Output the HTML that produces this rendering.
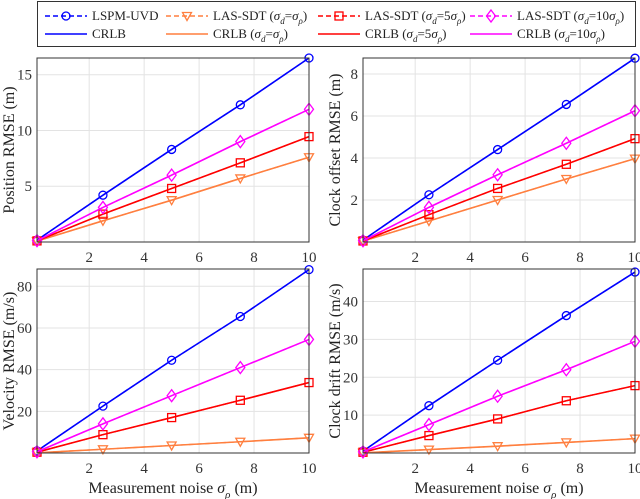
<!DOCTYPE html>
<html><head><meta charset="utf-8">
<style>
body{margin:0;background:#fff;}
svg{display:block;font-family:"Liberation Serif",serif;}
</style></head>
<body>
<svg id="fig" width="640" height="499" viewBox="0 0 640 499">
<g id="legend">
<rect x="37.5" y="1.5" width="598" height="45" fill="#fff" stroke="#333" stroke-width="1"/>
</g>
</svg>
<script>
const xVals=[0.1,2.5,5,7.5,10];
const xTicks=[2,4,6,8,10];
const seriesNames=["LSPM-UVD","LAS-SDT (d=1)","LAS-SDT (d=5)","LAS-SDT (d=10)"];
const colors=["#0000ff","#ff7f3f","#ff0000","#ff00ff"];
const markers=["circle","tri","square","diamond"];
const posBlue=[0.17,4.2,8.3,12.3,16.5];
const posOrange=[0.08,1.9,3.75,5.7,7.6];
const posRed=[0.1,2.5,4.8,7.1,9.45];
const posMag=[0.12,3.1,6.0,9.0,11.9];
const clkBlue=[0.09,2.25,4.4,6.55,8.75];
const clkOrange=[0.04,1.0,2.0,3.0,3.97];
const clkRed=[0.05,1.3,2.55,3.7,4.92];
const clkMag=[0.06,1.65,3.2,4.7,6.25];
const velBlue=[1.0,22.5,44.5,65.5,88];
const velOrange=[0.1,1.8,3.6,5.4,7.3];
const velRed=[0.4,8.8,17,25.3,33.8];
const velMag=[0.6,14,27.5,41,54.5];
const drBlue=[0.5,12.5,24.5,36.3,47.8];
const drOrange=[0.05,0.9,1.8,2.8,3.8];
const drRed=[0.2,4.6,9,13.8,17.8];
const drMag=[0.3,7.5,15,22,29.5];
const posTicks=[5,10,15];
const clkTicks=[2,4,6,8];
const velTicks=[20,40,60,80];
const drTicks=[10,20,30,40];

const NS="http://www.w3.org/2000/svg";
const svg=document.getElementById('fig');
function mk(tag,attrs,parent){const e=document.createElementNS(NS,tag);for(const k in attrs)e.setAttribute(k,attrs[k]);(parent||svg).appendChild(e);return e;}

function marker(g,type,cx,cy,col){
  let e;
  if(type==="circle"){e=mk('circle',{cx:cx,cy:cy,r:4,fill:'none',stroke:col,'stroke-width':1.3},g);}
  else if(type==="square"){e=mk('rect',{x:cx-4,y:cy-4,width:8,height:8,fill:'none',stroke:col,'stroke-width':1.3},g);}
  else if(type==="tri"){e=mk('polygon',{points:`${cx-4.5},${cy-3.5} ${cx+4.5},${cy-3.5} ${cx},${cy+4.5}`,fill:'none',stroke:col,'stroke-width':1.3},g);}
  else {e=mk('polygon',{points:`${cx},${cy-6} ${cx+4.5},${cy} ${cx},${cy+6} ${cx-4.5},${cy}`,fill:'none',stroke:col,'stroke-width':1.3},g);}
  
  
  return e;
}

function panel(name,L,R,T,B,ymax,yticks,series,ylabel,xlabel){
  const g=mk('g',{});
  
  
  const xmin=0.1,xmax=10;
  const sx=v=>L+(v-xmin)/(xmax-xmin)*(R-L);
  const sy=v=>B-(v/ymax)*(B-T);
  mk('rect',{x:L,y:T,width:R-L,height:B-T,fill:'#fff'},g);
  xTicks.forEach(t=>{
    if(t<xmax) {const gl=mk('line',{x1:sx(t),x2:sx(t),y1:T,y2:B,stroke:'#e3e3e3','stroke-width':1},g);}
    const tx=mk('text',{x:sx(t),y:B+20,'text-anchor':'middle','font-size':15,fill:'#333'},g);
    tx.textContent=t;
    
    
  });
  yticks.forEach(t=>{
    const gl=mk('line',{x1:L,x2:R,y1:sy(t),y2:sy(t),stroke:'#e3e3e3','stroke-width':1},g);
    
    
    const tx=mk('text',{x:L-5,y:sy(t)+5,'text-anchor':'end','font-size':15,fill:'#333'},g);
    tx.textContent=t;
    
    
  });
  series.forEach((vals,i)=>{
    const pts=vals.map((v,j)=>sx(xVals[j])+','+sy(v)).join(' ');
    const s=mk('polyline',{points:pts,fill:'none',stroke:colors[i],'stroke-width':1.6},g);
    
    
    const d=mk('polyline',{points:pts,fill:'none',stroke:colors[i],'stroke-width':1.3,'stroke-dasharray':'5,3'},g);
    
    
    vals.forEach((v,j)=>marker(g,markers[i],sx(xVals[j]),sy(v),colors[i]));
  });
  mk('rect',{x:L,y:T,width:R-L,height:B-T,fill:'none',stroke:'#333','stroke-width':1},g);
  const cx=L-23, cy=(T+B)/2;
  const yl=mk('text',{x:cx,y:cy,'text-anchor':'middle','font-size':16,fill:'#222',transform:`rotate(-90 ${cx} ${cy})`},g);
  yl.textContent=ylabel;
  
  
  if(xlabel){
    const xl=mk('text',{x:(L+R)/2,y:B+40,'text-anchor':'middle','font-size':16,fill:'#222'},g);
    xl.innerHTML='Measurement noise <tspan font-style="italic">σ</tspan><tspan font-size="11" font-style="italic" dy="5">ρ</tspan><tspan dy="-5"> (m)</tspan>';
    
    
  }
}
panel('position-panel',37,309,58,242,16.5,posTicks,[posBlue,posOrange,posRed,posMag],'Position RMSE (m)',false);
panel('clock-offset-panel',363,635,58,242,8.76,clkTicks,[clkBlue,clkOrange,clkRed,clkMag],'Clock offset RMSE (m)',false);
panel('velocity-panel',37,309,269,453,88.3,velTicks,[velBlue,velOrange,velRed,velMag],'Velocity RMSE (m/s)',true);
panel('clock-drift-panel',363,635,269,453,48.6,drTicks,[drBlue,drOrange,drRed,drMag],'Clock drift RMSE (m/s)',true);

// legend
const lg=document.getElementById('legend');
const colX=[45,166,318,470];
const sub=(a,b)=>'<tspan font-style="italic">σ</tspan><tspan font-size="9" dy="4" font-style="italic">'+a+'</tspan><tspan dy="-4">'+b+'</tspan>';
const txtLine1=['LSPM-UVD',
 'LAS-SDT ('+sub('d','=')+sub('ρ',')'),
 'LAS-SDT ('+sub('d','=5')+sub('ρ',')'),
 'LAS-SDT ('+sub('d','=10')+sub('ρ',')')];
const txtLine2=['CRLB',
 'CRLB ('+sub('d','=')+sub('ρ',')'),
 'CRLB ('+sub('d','=5')+sub('ρ',')'),
 'CRLB ('+sub('d','=10')+sub('ρ',')')];
for(let i=0;i<4;i++){
  const x=colX[i];
  const e1=mk('g',{},lg);
  
  
  mk('line',{x1:x,x2:x+42,y1:16,y2:16,stroke:colors[i],'stroke-width':1.4,'stroke-dasharray':'5,3'},e1);
  marker(e1,markers[i],x+21,16,colors[i]);
  const t1=mk('text',{x:x+47,y:20,'font-size':13,fill:'#222'},e1);
  t1.innerHTML=txtLine1[i];
  const e2=mk('g',{},lg);
  
  
  mk('line',{x1:x,x2:x+42,y1:34,y2:34,stroke:colors[i],'stroke-width':1.6},e2);
  const t2=mk('text',{x:x+47,y:38,'font-size':13,fill:'#222'},e2);
  t2.innerHTML=txtLine2[i];
}
svg.appendChild(lg);
</script>
</body></html>
